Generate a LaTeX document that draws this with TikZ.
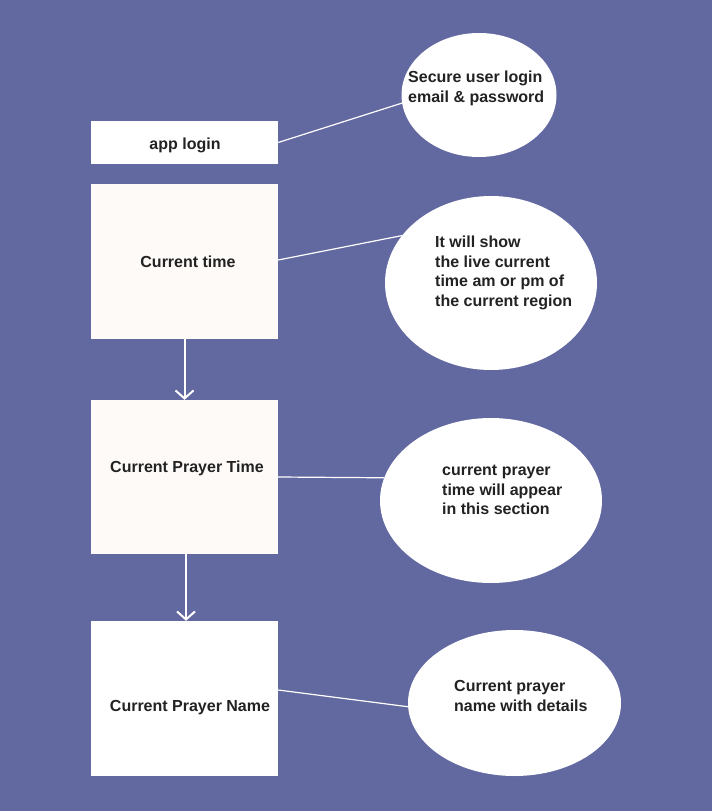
\documentclass[tikz,border=0pt]{standalone}
\usepackage{fontspec}
\setmainfont{Liberation Sans}
\usetikzlibrary{shapes.geometric,arrows.meta}
\definecolor{bg}{HTML}{6268A0}
\definecolor{paper}{HTML}{FEFAF8}
\definecolor{ink}{HTML}{222222}
\tikzset{
  box/.style={rectangle, inner sep=0pt, draw=none, minimum width=187pt},
  bubble/.style={ellipse, fill=white, draw=none, inner sep=0pt},
  txt/.style={font=\fontsize{16}{19.7}\selectfont\bfseries, text=ink, inner sep=0pt},
  btxt/.style={txt, align=left, anchor=west},
  link/.style={draw=white, line width=1.2pt},
  flow/.style={draw=white, line width=2pt, -{Straight Barb[length=8pt,width=18pt,line width=2pt]}}
}
\begin{document}
\begin{tikzpicture}[x=1pt,y=-1pt]
\fill[bg] (0,0) rectangle (712,811);
\useasboundingbox (0,0) rectangle (712,811);

% boxes
\node[box, fill=white, minimum height=43pt] (login) at (184.5,142.5) {};
\node[box, fill=paper, minimum height=155pt] (ct) at (184.5,261.5) {};
\node[box, fill=paper, minimum height=154pt] (pt) at (184.5,477) {};
\node[box, fill=white, minimum height=155pt] (pn) at (184.5,698.5) {};

\node[txt] (tlogin) at (185,145) {app login};
\node[txt] (tct) at (188,262) {Current time};
\node[txt] (tpt) at (187,468) {Current Prayer Time};
\node[txt] (tpn) at (190,708) {Current Prayer Name};

% bubbles
\node[bubble, minimum width=155pt, minimum height=124pt] (e1) at (479,95) {};
\node[bubble, minimum width=212pt, minimum height=174pt] (e2) at (491,283) {};
\node[bubble, minimum width=222pt, minimum height=165pt] (e3) at (491,500.5) {};
\node[bubble, minimum width=213pt, minimum height=146pt] (e4) at (514.5,703) {};

\node[btxt] (t1) at (408,88.5) {Secure user login\\email \& password};
\node[btxt] (t2) at (435,273) {It will show\\the live current\\time am or pm of\\the current region};
\node[btxt] (t3) at (442,490) {current prayer\\time will appear\\in this section};
\node[btxt] (t4) at (454,696) {Current prayer\\name with details};

% links
\draw[link] (login.east) -- (e1.186);
\draw[link] ([yshift=1.5pt]ct.east) -- (e2.152);
\draw[link] (pt.east) -- (e3.168);
\draw[link] ([yshift=8.5pt]pn.east) -- (e4.182);

% flow arrows
\draw[flow] (ct.south) -- (pt.north);
\draw[flow] ([xshift=1.5pt]pt.south) -- ([xshift=1.5pt]pn.north);
\end{tikzpicture}
\end{document}
